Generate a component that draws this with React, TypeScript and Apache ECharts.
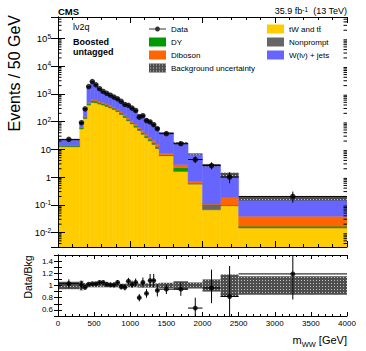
import React, { useEffect, useRef } from 'react';
import * as echarts from 'echarts';

const FONT = '"Liberation Sans", Arial, Helvetica, sans-serif';

// Bin edges (GeV)
const binEdges = [0, 300, 350, 400, 450, 500, 550, 600, 650, 700, 750, 800, 850, 900, 950, 1000, 1050, 1100, 1150, 1200, 1250, 1300, 1350, 1400, 1600, 1800, 2000, 2250, 2500, 4000];

// Events / 50 GeV
const dataVals = [23, 92, 290, 1850, 2800, 2150, 1550, 1230, 1060, 900, 770, 670, 540, 420, 390, 310, 255, 145, 165, 110, 98, 78, 56, 37, 16, 4.3, 2.6, 1.0, 0.2];
const dataLo = [21, 83, 273, 1807, 2747, 2104, 1511, 1195, 1027, 870, 742, 644, 517, 400, 370, 292, 239, 133, 152, 100, 88, 69, 49, 34, 14, 3.2, 1.9, 0.6, 0.12];
const dataHi = [25, 101, 307, 1893, 2853, 2196, 1589, 1265, 1093, 930, 798, 696, 563, 440, 410, 328, 271, 157, 178, 120, 108, 87, 63, 40, 18, 5.6, 3.4, 1.5, 0.3];

const tWtt = [12.5, 55, 130, 400, 500, 480, 435, 400, 355, 315, 275, 230, 182, 141, 107, 83, 63, 48, 35, 26, 20, 15, 10.7, 5.9, 1.62, 0.56, 0.066, 0.093, 0.0145];
const nonprompt = [0.4, 1.5, 4, 12, 15, 14, 12, 11, 10, 9, 8, 7, 6, 5, 4, 3, 2.5, 2, 1.5, 1.2, 1, 0.8, 0.6, 0.2, 0.05, 0.02, 0.034, 0.003, 0.002];
const dy = [0.6, 4, 12, 45, 70, 60, 50, 42, 36, 30, 25, 21, 17, 13, 10, 8, 6, 5, 4, 3, 2.4, 1.8, 1.4, 0.3, 0.5, 0.02, 0.003, 0.002, 0.0005];
const diboson = [0.4, 2.5, 8, 35, 60, 58, 52, 48, 42, 38, 33, 28, 24, 20, 16, 13, 11, 9, 7, 5.5, 4.5, 3.6, 2.8, 0.9, 0.68, 0.1, 0.004, 0.085, 0.022];
const wjets = [8.4, 28, 145, 1318, 2075, 1478, 931, 669, 597, 498, 419, 354, 321, 254, 228, 197, 160, 117, 110, 90, 63, 51, 45.5, 32, 14.2, 6.1, 2.6, 1.04, 0.13];

// relative background uncertainty
const bkgUnc = [0.06, 0.08, 0.04, 0.03, 0.03, 0.03, 0.03, 0.03, 0.03, 0.03, 0.03, 0.03, 0.03, 0.03, 0.03, 0.03, 0.03, 0.035, 0.035, 0.035, 0.035, 0.035, 0.035, 0.045, 0.07, 0.05, 0.1, 0.18, 0.15];

// Data / Bkg
const ratioVals = [1.03, 1.01, 0.97, 1.02, 1.03, 1.03, 1.05, 1.05, 1.02, 1.01, 1.01, 1.05, 0.98, 0.97, 1.07, 1.02, 1.05, 0.80, 1.05, 0.87, 1.08, 1.08, 0.92, 0.94, 0.94, 0.63, 0.96, 0.82, 1.19];
const ratioErrLo = [0.07, 0.06, 0.04, 0.025, 0.02, 0.025, 0.03, 0.03, 0.035, 0.035, 0.04, 0.04, 0.045, 0.05, 0.055, 0.06, 0.065, 0.06, 0.08, 0.07, 0.1, 0.11, 0.1, 0.08, 0.11, 0.15, 0.25, 0.35, 0.42];
const ratioErrHi = [0.07, 0.06, 0.04, 0.025, 0.02, 0.025, 0.03, 0.03, 0.035, 0.035, 0.04, 0.04, 0.045, 0.05, 0.055, 0.06, 0.065, 0.06, 0.08, 0.07, 0.11, 0.11, 0.1, 0.08, 0.11, 0.17, 0.3, 0.5, 0.35];

const YMIN = 0.003;
const YMAX = 600000;

const COLORS = {
  tw: '#ffcc00',
  np: '#666666',
  dy: '#009a00',
  vv: '#ff6600',
  wj: '#6666ff',
};

function makeHatch(): any {
  const c = document.createElement('canvas');
  c.width = 3;
  c.height = 3;
  const ctx = c.getContext('2d');
  if (ctx) {
    ctx.fillStyle = '#4e4e4e';
    ctx.fillRect(0, 0, 3, 3);
    ctx.fillStyle = '#c4c4c4';
    ctx.fillRect(1, 1, 1, 1);
  }
  return { image: c, repeat: 'repeat', imageWidth: 3, imageHeight: 3 };
}

const DATA_ICON = 'path://M0,0h0.01v0.01h-0.01z M17,9h-0.01v-0.01h0.01z M0,4h17v1h-17z M8.5,2A2.5,2.5 0 1 1 8.49,2z';

export default function App() {
  const ref = useRef<HTMLDivElement>(null);

  useEffect(() => {
    document.body.style.margin = '0';
    if (!ref.current) return;
    const chart = echarts.init(ref.current, null, { renderer: 'svg' });
    const hatch = makeHatch();

    const centers = dataVals.map((_, i) => (binEdges[i] + binEdges[i + 1]) / 2);
    const c1 = tWtt.slice();
    const c2 = c1.map((v, i) => v + nonprompt[i]);
    const c3 = c2.map((v, i) => v + dy[i]);
    const c4 = c3.map((v, i) => v + diboson[i]);
    const c5 = c4.map((v, i) => v + wjets[i]);

    const stackSeries = (name: string, color: string, lower: number[], upper: number[]) => ({
      type: 'custom',
      name,
      xAxisIndex: 0,
      yAxisIndex: 0,
      z: 2,
      silent: true,
      clip: true,
      itemStyle: { color },
      encode: { x: [0, 1], y: [2, 3] },
      data: upper.map((u, i) => [binEdges[i], binEdges[i + 1], lower[i], u]),
      renderItem: (params: any, api: any) => {
        const p0 = api.coord([api.value(0), api.value(3)]);
        const p1 = api.coord([api.value(1), api.value(2)]);
        return {
          type: 'rect',
          shape: { x: p0[0], y: p0[1], width: p1[0] - p0[0], height: p1[1] - p0[1] },
          style: { fill: color, stroke: color, lineWidth: 0.5 },
        };
      },
    });

    const bandSeries = (xi: number, yi: number, lo: number[], hi: number[]) => ({
      type: 'custom',
      name: 'Background uncertainty',
      xAxisIndex: xi,
      yAxisIndex: yi,
      z: 3,
      silent: true,
      clip: true,
      itemStyle: { color: '#555555' },
      encode: { x: [0, 1], y: [2, 3] },
      data: lo.map((l, i) => [binEdges[i], binEdges[i + 1], l, hi[i]]),
      renderItem: (params: any, api: any) => {
        const p0 = api.coord([api.value(0), api.value(3)]);
        const p1 = api.coord([api.value(1), api.value(2)]);
        return {
          type: 'rect',
          shape: { x: p0[0], y: p0[1], width: p1[0] - p0[0], height: Math.max(p1[1] - p0[1], 1) },
          style: { fill: hatch },
        };
      },
    });

    const errSeries = (xi: number, yi: number, vals: number[], lo: number[], hi: number[]) => ({
      type: 'custom',
      name: 'DataErr',
      xAxisIndex: xi,
      yAxisIndex: yi,
      z: 7,
      silent: true,
      clip: true,
      encode: { x: [0, 4, 5], y: [1, 2, 3] },
      data: vals.map((v, i) => [centers[i], v, lo[i], hi[i], binEdges[i], binEdges[i + 1]]),
      renderItem: (params: any, api: any) => {
        const pc = api.coord([api.value(0), api.value(1)]);
        const pl = api.coord([api.value(0), api.value(2)]);
        const ph = api.coord([api.value(0), api.value(3)]);
        const px0 = api.coord([api.value(4), api.value(1)]);
        const px1 = api.coord([api.value(5), api.value(1)]);
        return {
          type: 'group',
          children: [
            { type: 'line', shape: { x1: pc[0], y1: pl[1], x2: pc[0], y2: ph[1] }, style: { stroke: '#000', lineWidth: 1 } },
            { type: 'line', shape: { x1: px0[0], y1: pc[1], x2: px1[0], y2: pc[1] }, style: { stroke: '#000', lineWidth: 1 } },
          ],
        };
      },
    });

    // minor ticks of the log axis (2..9 x 10^n)
    const minorVals: number[][] = [];
    for (let n = -3; n <= 5; n++) {
      for (let k = 2; k <= 9; k++) {
        const v = k * Math.pow(10, n);
        if (v > YMIN && v < YMAX) minorVals.push([0, v]);
      }
    }

    const logFormatter = (v: number) => {
      const l = Math.log10(v);
      const n = Math.round(l);
      if (Math.abs(l - n) > 1e-6) return '';
      if (n === 0) return '{b|1}';
      if (n === 1) return '{b|10}';
      return '{b|10}{s|' + n + '}';
    };

    const tickStyle = { color: '#000', width: 1 };

    const option: any = {
      animation: false,
      backgroundColor: '#fff',
      grid: [
        { left: 58, top: 17, width: 289, height: 230, show: false },
        { left: 58, top: 255, width: 289, height: 61, show: false },
      ],
      xAxis: [
        {
          gridIndex: 0, type: 'value', min: 0, max: 4000, interval: 1000, position: 'bottom', z: 5,
          axisLine: { show: true, lineStyle: tickStyle },
          axisTick: { show: true, inside: true, length: 6, lineStyle: tickStyle },
          minorTick: { show: true, splitNumber: 5, length: 3, lineStyle: tickStyle },
          axisLabel: { show: false }, splitLine: { show: false },
        },
        {
          gridIndex: 0, type: 'value', min: 0, max: 4000, interval: 1000, position: 'top', z: 5,
          axisLine: { show: true, lineStyle: tickStyle },
          axisTick: { show: true, inside: true, length: 6, lineStyle: tickStyle },
          minorTick: { show: true, splitNumber: 5, length: 3, lineStyle: tickStyle },
          axisLabel: { show: false }, splitLine: { show: false },
        },
        {
          gridIndex: 1, type: 'value', min: 0, max: 4000, interval: 500, position: 'bottom', z: 5,
          axisLine: { show: true, lineStyle: tickStyle },
          axisTick: { show: true, inside: true, length: 4, lineStyle: tickStyle },
          minorTick: { show: true, splitNumber: 5, length: 2, lineStyle: tickStyle },
          axisLabel: {
            show: true, interval: 0, showMinLabel: true, showMaxLabel: true, fontSize: 8, fontFamily: FONT, color: '#000', margin: 3,
            formatter: (v: number) => String(Math.round(v)),
          },
          splitLine: { show: false },
        },
        {
          gridIndex: 1, type: 'value', min: 0, max: 4000, interval: 500, position: 'top', z: 5,
          axisLine: { show: true, lineStyle: tickStyle },
          axisTick: { show: true, inside: true, length: 4, lineStyle: tickStyle },
          minorTick: { show: true, splitNumber: 5, length: 2, lineStyle: tickStyle },
          axisLabel: { show: false }, splitLine: { show: false },
        },
      ],
      yAxis: [
        {
          gridIndex: 0, type: 'log', logBase: 10, min: YMIN, max: YMAX, position: 'left', z: 5,
          axisLine: { show: true, lineStyle: tickStyle },
          axisTick: { show: true, inside: true, length: 7, lineStyle: tickStyle },
          axisLabel: {
            show: true, showMinLabel: false, showMaxLabel: false, margin: 7, formatter: logFormatter,
            rich: {
              b: { fontSize: 9.5, fontFamily: FONT, color: '#000', lineHeight: 12 },
              s: { fontSize: 6.5, fontFamily: FONT, color: '#000', lineHeight: 8, verticalAlign: 'top' },
            },
          },
          splitLine: { show: false },
        },
        {
          gridIndex: 0, type: 'log', logBase: 10, min: YMIN, max: YMAX, position: 'right', z: 5,
          axisLine: { show: true, lineStyle: tickStyle },
          axisTick: { show: true, inside: true, length: 7, lineStyle: tickStyle },
          axisLabel: { show: false }, splitLine: { show: false },
        },
        {
          gridIndex: 1, type: 'value', min: 0.5, max: 1.5, interval: 0.1, position: 'left', z: 5,
          axisLine: { show: true, lineStyle: tickStyle },
          axisTick: { show: true, inside: true, length: 4, lineStyle: tickStyle },
          axisLabel: {
            show: true, fontSize: 8, fontFamily: FONT, color: '#000', margin: 5,
            formatter: (v: number) => {
              const r = Math.round(v * 10);
              if (r % 2 !== 0) return '';
              return r === 10 ? '1' : (r / 10).toFixed(1);
            },
          },
          splitLine: { show: false },
        },
        {
          gridIndex: 1, type: 'value', min: 0.5, max: 1.5, interval: 0.1, position: 'right', z: 5,
          axisLine: { show: true, lineStyle: tickStyle },
          axisTick: { show: true, inside: true, length: 4, lineStyle: tickStyle },
          axisLabel: { show: false }, splitLine: { show: false },
        },
      ],
      legend: [
        {
          left: 149, top: 23.5, orient: 'vertical', padding: 0, itemGap: 2, itemWidth: 17, itemHeight: 9,
          icon: 'rect', selectedMode: false,
          textStyle: { fontSize: 8, fontFamily: FONT, color: '#000', lineHeight: 11 },
          data: [
            { name: 'Data', icon: DATA_ICON },
            'DY',
            'Diboson',
            { name: 'Background uncertainty', itemStyle: { color: hatch } },
          ],
        },
        {
          left: 267, top: 23.5, orient: 'vertical', padding: 0, itemGap: 2, itemWidth: 17, itemHeight: 9,
          icon: 'rect', selectedMode: false,
          textStyle: { fontSize: 8, fontFamily: FONT, color: '#000', lineHeight: 11 },
          data: ['tW and tt\u0304', 'Nonprompt', 'W(l\u03bd) + jets'],
        },
      ],
      graphic: [
        {
          type: 'text', x: 58, y: 11, z: 10,
          style: { text: 'CMS', font: 'bold 9.5px ' + FONT, fill: '#000', align: 'left', verticalAlign: 'middle', textAlign: 'left', textVerticalAlign: 'middle' },
        },
        {
          type: 'text', x: 347, y: 11, z: 10,
          style: {
            text: '{n|35.9 fb}{s|-1}{n|  (13 TeV)}', align: 'right', verticalAlign: 'middle', textAlign: 'right', textVerticalAlign: 'middle',
            rich: {
              n: { fontSize: 9, fontFamily: FONT, fill: '#000', lineHeight: 11 },
              s: { fontSize: 6.5, fontFamily: FONT, fill: '#000', lineHeight: 7, verticalAlign: 'top' },
            },
          },
        },
        {
          type: 'text', x: 73, y: 27, z: 10,
          style: { text: 'l\u03bd2q', font: '9px ' + FONT, fill: '#000', align: 'left', verticalAlign: 'middle', textAlign: 'left', textVerticalAlign: 'middle' },
        },
        {
          type: 'text', x: 73, y: 41.5, z: 10,
          style: { text: 'Boosted', font: 'bold 9px ' + FONT, fill: '#000', align: 'left', verticalAlign: 'middle', textAlign: 'left', textVerticalAlign: 'middle' },
        },
        {
          type: 'text', x: 73, y: 52, z: 10,
          style: { text: 'untagged', font: 'bold 9px ' + FONT, fill: '#000', align: 'left', verticalAlign: 'middle', textAlign: 'left', textVerticalAlign: 'middle' },
        },
        {
          type: 'text', x: 14, y: 15, rotation: Math.PI / 2, z: 10,
          style: { text: 'Events / 50 GeV', font: '16px ' + FONT, fill: '#000', align: 'right', verticalAlign: 'middle', textAlign: 'right', textVerticalAlign: 'middle' },
        },
        {
          type: 'text', x: 28, y: 277, rotation: Math.PI / 2, z: 10,
          style: { text: 'Data/Bkg', font: '10.5px ' + FONT, fill: '#000', align: 'center', verticalAlign: 'middle', textAlign: 'center', textVerticalAlign: 'middle' },
        },
        {
          type: 'text', x: 347, y: 340, z: 10,
          style: {
            text: '{n|m}{sub|WW}{n| [GeV]}', align: 'right', verticalAlign: 'middle', textAlign: 'right', textVerticalAlign: 'middle',
            rich: {
              n: { fontSize: 11, fontFamily: FONT, fill: '#000', lineHeight: 13 },
              sub: { fontSize: 7.5, fontFamily: FONT, fill: '#000', lineHeight: 9, verticalAlign: 'bottom', padding: [0, 0, -2, 0] },
            },
          },
        },
      ],
      series: [
        stackSeries('tW and tt\u0304', COLORS.tw, tWtt.map(() => YMIN), c1),
        stackSeries('Nonprompt', COLORS.np, c1, c2),
        stackSeries('DY', COLORS.dy, c2, c3),
        stackSeries('Diboson', COLORS.vv, c3, c4),
        stackSeries('W(l\u03bd) + jets', COLORS.wj, c4, c5),
        bandSeries(0, 0, c5.map((v, i) => v * (1 - bkgUnc[i])), c5.map((v, i) => v * (1 + bkgUnc[i]))),
        errSeries(0, 0, dataVals, dataLo, dataHi),
        {
          type: 'scatter', name: 'Data', xAxisIndex: 0, yAxisIndex: 0, z: 8, silent: true,
          symbol: 'circle', symbolSize: 5.5, itemStyle: { color: '#000' },
          data: dataVals.map((v, i) => [centers[i], v]),
        },
        {
          type: 'custom', name: 'minorTicks', xAxisIndex: 0, yAxisIndex: 0, z: 9, silent: true,
          data: minorVals,
          renderItem: (params: any, api: any) => {
            const pl = api.coord([0, api.value(1)]);
            const pr = api.coord([4000, api.value(1)]);
            return {
              type: 'group',
              children: [
                { type: 'line', shape: { x1: pl[0], y1: pl[1], x2: pl[0] + 3.5, y2: pl[1] }, style: { stroke: '#000', lineWidth: 1 } },
                { type: 'line', shape: { x1: pr[0] - 3.5, y1: pr[1], x2: pr[0], y2: pr[1] }, style: { stroke: '#000', lineWidth: 1 } },
              ],
            };
          },
        },
        bandSeries(2, 2, bkgUnc.map((e) => 1 - e), bkgUnc.map((e) => 1 + e)),
        errSeries(2, 2, ratioVals, ratioVals.map((v, i) => v - ratioErrLo[i]), ratioVals.map((v, i) => v + ratioErrHi[i])),
        {
          type: 'scatter', name: 'Data', xAxisIndex: 2, yAxisIndex: 2, z: 8, silent: true,
          symbol: 'circle', symbolSize: 5, itemStyle: { color: '#000' },
          data: ratioVals.map((v, i) => [centers[i], v]),
        },
      ],
    };

    chart.setOption(option);
    return () => chart.dispose();
  }, []);

  return <div ref={ref} style={{ width: 366, height: 351 }} />;
}
